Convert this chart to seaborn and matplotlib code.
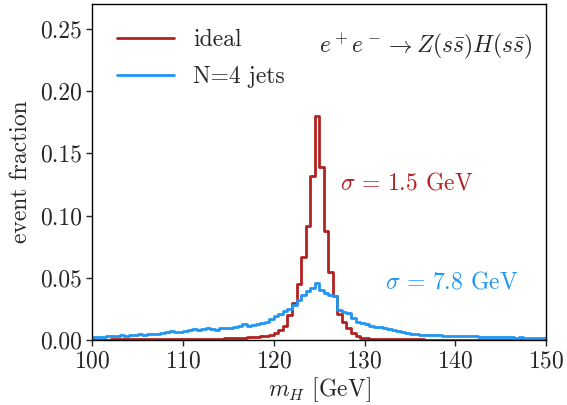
import numpy as np
import pandas as pd
import matplotlib
matplotlib.use("Agg")
import matplotlib.pyplot as plt
from matplotlib.lines import Line2D
import seaborn as sns

# bin edges: 0.5 GeV bins from 100 to 150
bin_edges = [100.0 + 0.5 * i for i in range(101)]
bin_centers = [e + 0.25 for e in bin_edges[:-1]]

ideal = [
    0.0003, 0.0003, 0.0003, 0.0003, 0.0004, 0.0004, 0.0004, 0.0004, 0.0005, 0.0005,
    0.0005, 0.0005, 0.0006, 0.0006, 0.0006, 0.0007, 0.0007, 0.0007, 0.0008, 0.0008,
    0.0008, 0.0009, 0.0009, 0.0010, 0.0010, 0.0011, 0.0011, 0.0012, 0.0012, 0.0013,
    0.0015, 0.0016, 0.0018, 0.0020, 0.0022, 0.0025, 0.0028, 0.0030, 0.0035, 0.0040,
    0.0060, 0.0080, 0.0110, 0.0200, 0.0300, 0.0450, 0.0670, 0.0920, 0.1320, 0.1800,
    0.1390, 0.0880, 0.0550, 0.0350, 0.0210, 0.0147, 0.0094, 0.0053, 0.0032, 0.0020,
    0.0015, 0.0012, 0.0010, 0.0009, 0.0008, 0.0007, 0.0006, 0.0006, 0.0005, 0.0005,
    0.0004, 0.0004, 0.0004, 0.0003, 0.0003, 0.0003, 0.0003, 0.0003, 0.0002, 0.0002,
    0.0002, 0.0002, 0.0002, 0.0002, 0.0002, 0.0002, 0.0002, 0.0002, 0.0002, 0.0002,
    0.0002, 0.0002, 0.0002, 0.0002, 0.0002, 0.0002, 0.0002, 0.0002, 0.0002, 0.0002,
]

jets4 = [
    0.0025, 0.0028, 0.0027, 0.0030, 0.0032, 0.0035, 0.0038, 0.0035, 0.0040, 0.0042,
    0.0045, 0.0043, 0.0048, 0.0050, 0.0052, 0.0055, 0.0065, 0.0075, 0.0068, 0.0065,
    0.0075, 0.0080, 0.0085, 0.0078, 0.0090, 0.0095, 0.0088, 0.0082, 0.0095, 0.0100,
    0.0098, 0.0105, 0.0115, 0.0125, 0.0112, 0.0118, 0.0130, 0.0135, 0.0147, 0.0166,
    0.0190, 0.0210, 0.0235, 0.0250, 0.0280, 0.0320, 0.0360, 0.0390, 0.0415, 0.0455,
    0.0405, 0.0375, 0.0360, 0.0350, 0.0240, 0.0227, 0.0215, 0.0177, 0.0145, 0.0139,
    0.0125, 0.0115, 0.0107, 0.0105, 0.0095, 0.0085, 0.0080, 0.0070, 0.0065, 0.0060,
    0.0052, 0.0048, 0.0042, 0.0040, 0.0038, 0.0040, 0.0038, 0.0035, 0.0035, 0.0033,
    0.0030, 0.0032, 0.0035, 0.0033, 0.0030, 0.0028, 0.0027, 0.0025, 0.0025, 0.0027,
    0.0024, 0.0022, 0.0023, 0.0020, 0.0021, 0.0019, 0.0020, 0.0018, 0.0017, 0.0016,
]

labels = ["ideal", "N=4 jets"]
sigma_texts = [r"$\sigma\,=\,1.5$ GeV", r"$\sigma\,=\,7.8$ GeV"]
process_text = r"$e^+e^- \to Z(s\bar{s})H(s\bar{s})$"
c_red = "#b22222"
c_blue = "#2196f3"

sns.set_style("ticks")
plt.rcParams["font.family"] = ["serif"]
plt.rcParams["font.serif"] = ["cmr10", "DejaVu Serif"]
plt.rcParams["mathtext.fontset"] = "cm"
plt.rcParams["axes.formatter.use_mathtext"] = True

df = pd.DataFrame({
    "m": bin_centers + bin_centers,
    "w": ideal + jets4,
    "sample": [labels[0]] * len(bin_centers) + [labels[1]] * len(bin_centers),
})

fig = plt.figure(figsize=(5.67, 4.05), dpi=100)
ax = fig.add_axes([0.163, 0.1605, 0.8, 0.8295])

for lab, col in zip(labels, [c_red, c_blue]):
    sub = df[df["sample"] == lab]
    sns.histplot(data=sub, x="m", weights="w", bins=bin_edges, element="step",
                 fill=False, color=col, linewidth=2.0, ax=ax, stat="count")

ax.set_xlim(100, 150)
ax.set_ylim(0, 0.27)
ax.set_xticks([100, 110, 120, 130, 140, 150])
ax.set_yticks([0.0, 0.05, 0.10, 0.15, 0.20, 0.25])
ax.set_yticklabels(["0.00", "0.05", "0.10", "0.15", "0.20", "0.25"])
ax.tick_params(labelsize=17, direction="out", length=4, width=1)
ax.set_xlabel(r"$m_H$ [GeV]", fontsize=17, labelpad=2)
ax.set_ylabel("event fraction", fontsize=17, labelpad=6)
for s in ax.spines.values():
    s.set_visible(True)
    s.set_linewidth(1.0)
    s.set_color("black")

handles = [Line2D([], [], color=c_red, lw=2), Line2D([], [], color=c_blue, lw=2)]
ax.legend(handles, labels, loc="upper left", frameon=False, fontsize=17,
          handlelength=2.4, borderaxespad=0.65, labelspacing=0.65)

ax.text(0.97, 0.875, process_text, transform=ax.transAxes, ha="right",
        va="center", fontsize=17)
ax.text(0.545, 0.467, sigma_texts[0], transform=ax.transAxes, ha="left",
        va="center", fontsize=17, color=c_red)
ax.text(0.645, 0.17, sigma_texts[1], transform=ax.transAxes, ha="left",
        va="center", fontsize=17, color=c_blue)

fig.savefig("out.png", dpi=100)
